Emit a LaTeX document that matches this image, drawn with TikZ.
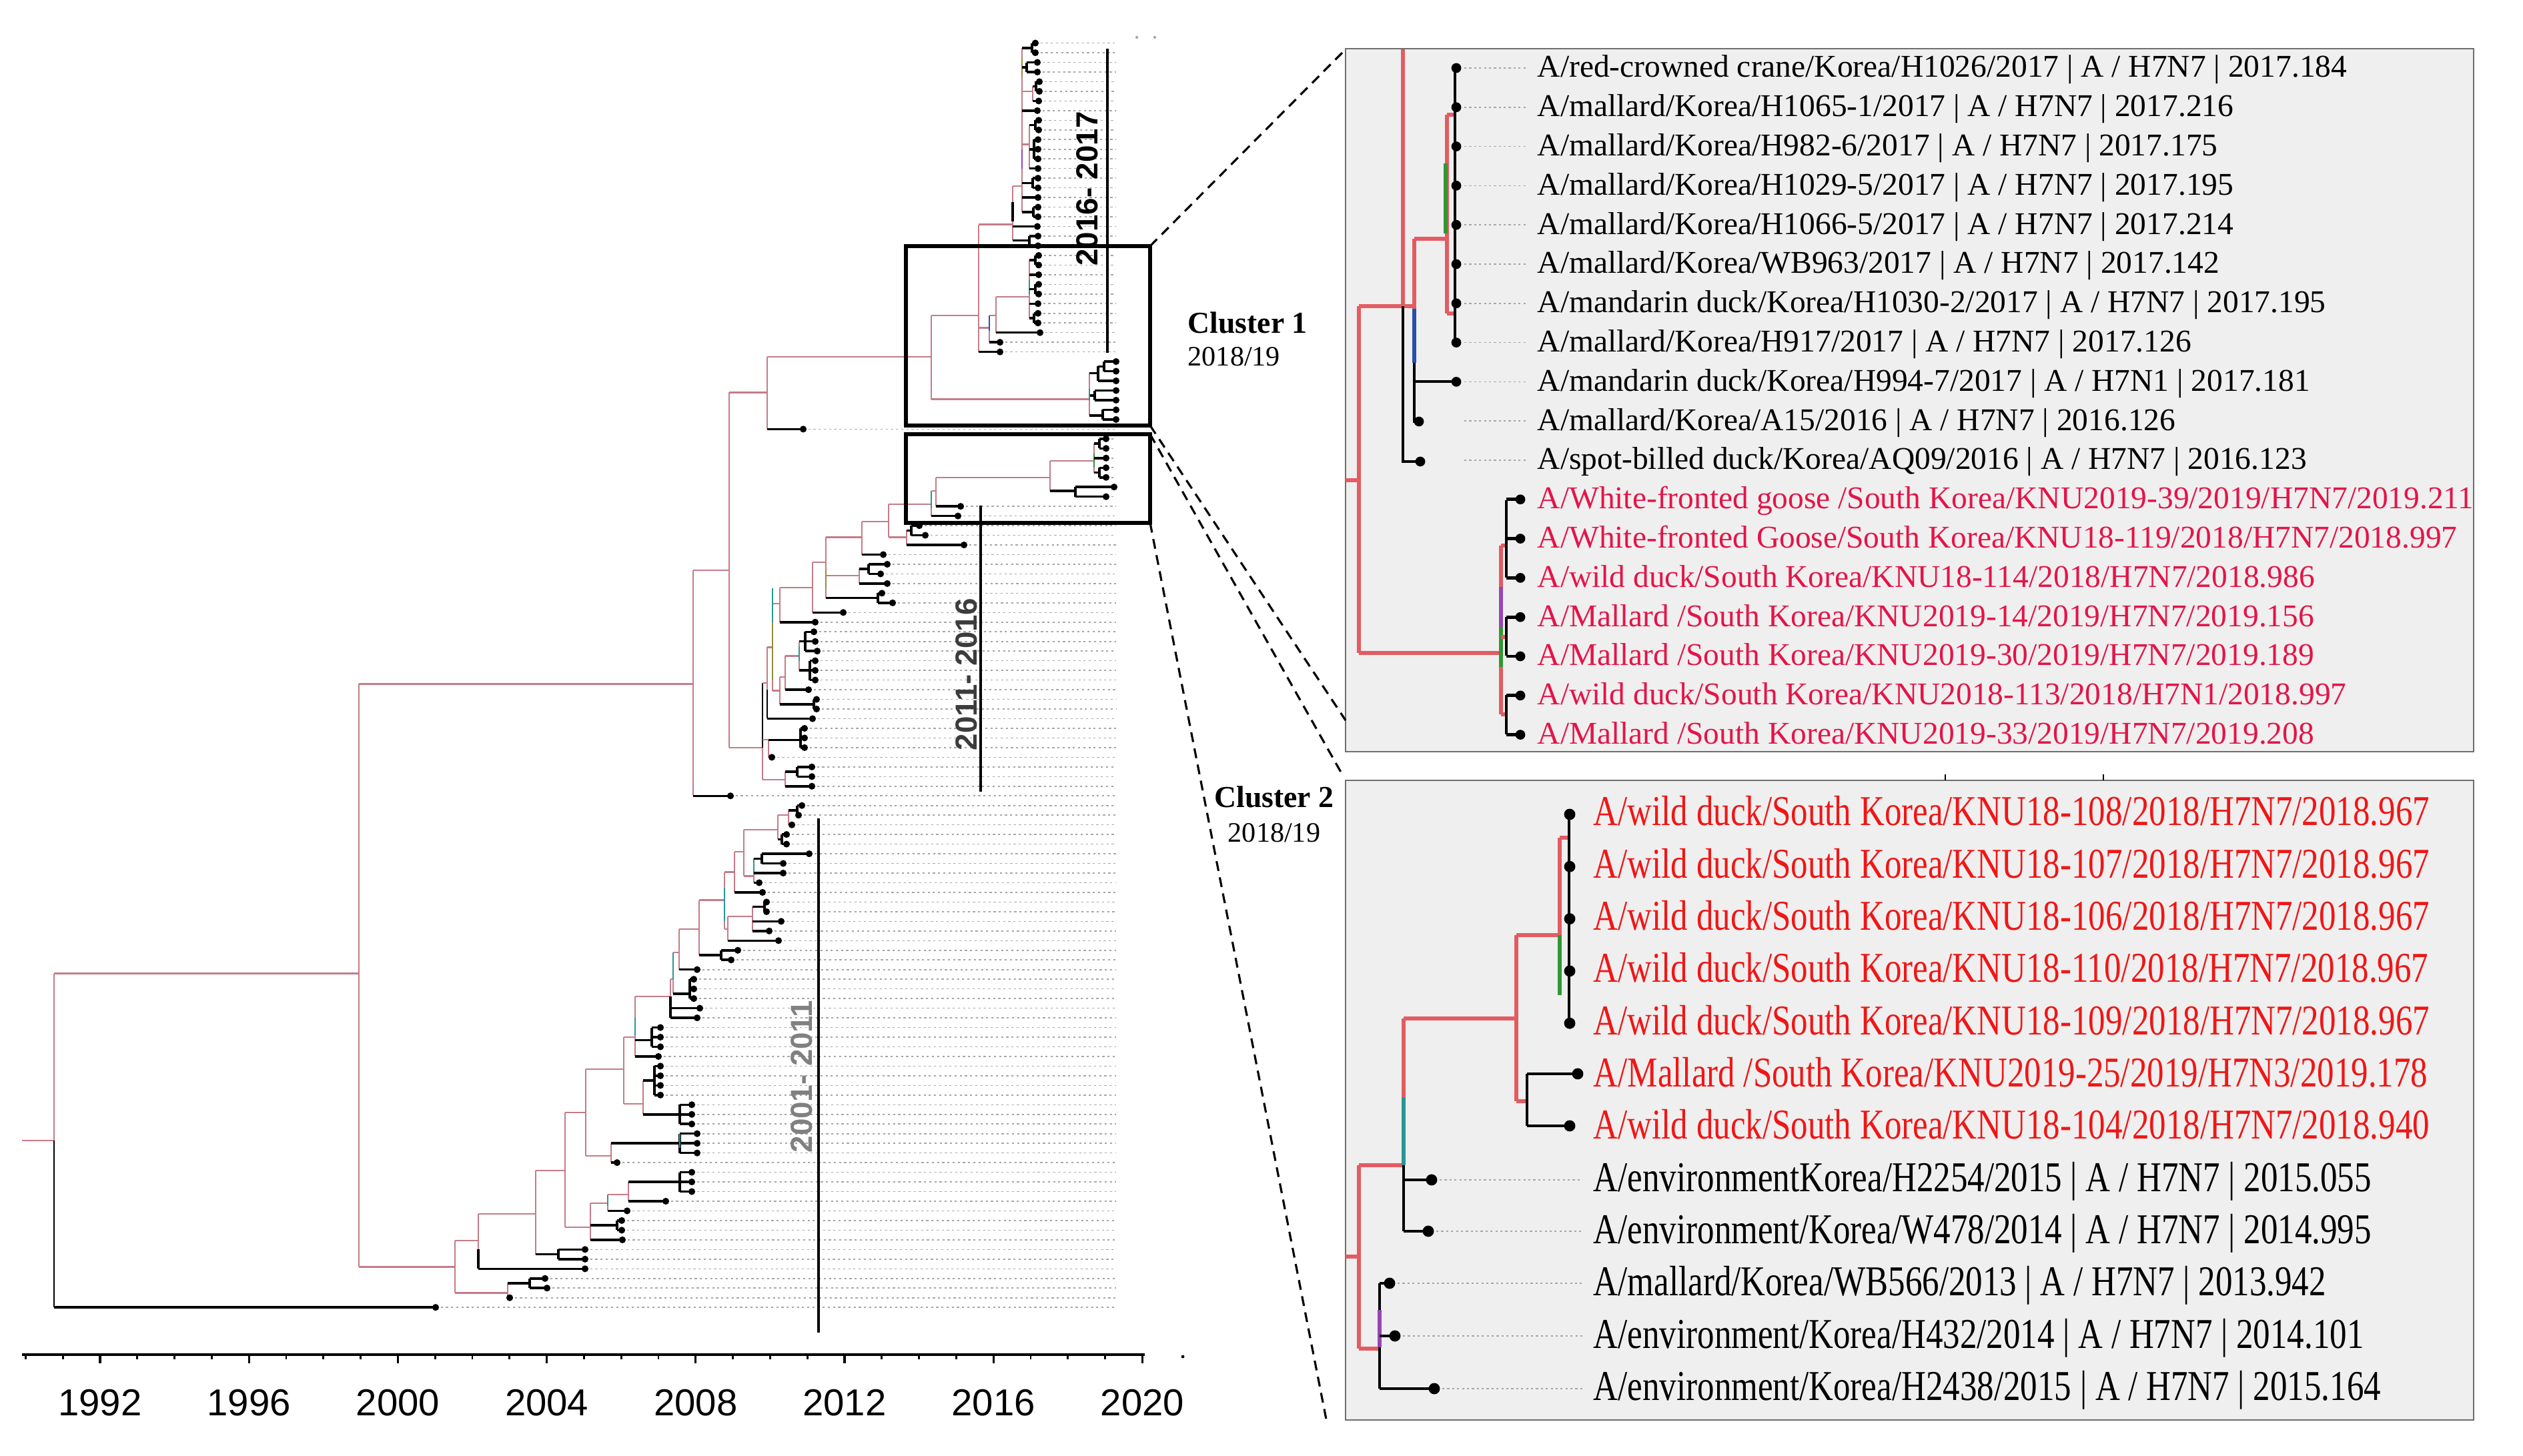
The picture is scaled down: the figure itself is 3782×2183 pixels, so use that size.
\documentclass[tikz,border=0pt]{standalone}
\usepackage{fontspec}
\setmainfont{Liberation Serif}
\newfontfamily\axsans{Liberation Sans}
\definecolor{treepk}{RGB}{196,124,136}
\definecolor{panpk}{RGB}{226,92,98}
\definecolor{redA}{RGB}{228,20,72}
\definecolor{redB}{RGB}{240,22,22}
\definecolor{panbg}{RGB}{239,239,239}
\definecolor{panbd}{RGB}{110,110,110}
\definecolor{dotg}{RGB}{165,165,165}
\definecolor{tealc}{RGB}{40,150,150}
\definecolor{greenc}{RGB}{50,150,50}
\definecolor{purpc}{RGB}{150,70,180}
\definecolor{bluec}{RGB}{40,80,170}
\definecolor{olivec}{RGB}{150,140,60}
\newcommand{\TRY}[1]{64.6+14.47*(#1)}
\newcommand{\tnd}[6][pk]{\draw[#1] (#2,{\TRY{#4}}) -- (#3,{\TRY{#4}}); \draw[#1] (#3,{\TRY{#5}}) -- (#3,{\TRY{#6}});}
\newcommand{\tndk}[5]{\tnd[kb]{#1}{#2}{#3}{#4}{#5}}
\newcommand{\tlf}[3]{\draw[dotl] (#2,{\TRY{#3}}) -- (1673,{\TRY{#3}}); \draw[kb] (#1,{\TRY{#3}}) -- (#2,{\TRY{#3}}); \fill (#2,{\TRY{#3}}) circle[radius=1.45pt];}
\newcommand{\tlfs}[4]{\foreach \q in {#3,...,#4}{\tlf{#1}{#2}{\q}}}
\newcommand{\tcol}[4]{\draw[draw=#1,line width=0.7pt] (#2,{\TRY{#3}}) -- (#2,{\TRY{#4}});}
\newcommand{\ptA}[3][black]{\node[txA,text=#1] (pa#2) at (2304,{102+58.8*#2+14}) {#3};}
\newcommand{\ptB}[3][black]{\node[txB,text=#1] (pb#2) at (2388,{1221+78.3*#2+17}) {\scalebox{1}[1.25]{#3}};}
\tikzset{
  pk/.style={draw=treepk, line width=0.65pt},
  kb/.style={draw=black, line width=1pt},
  dotl/.style={draw=dotg, line width=0.45pt, dash pattern=on 0.9pt off 1.3pt},
  ppk/.style={draw=panpk, line width=1.7pt},
  pkb/.style={draw=black, line width=1.4pt},
  pdot/.style={draw=dotg, line width=0.5pt, dash pattern=on 0.9pt off 1.2pt},
  txA/.style={anchor=base west, inner sep=0pt, font=\fontsize{13.5}{16}\selectfont},
  txB/.style={anchor=base west, inner sep=0pt, font=\fontsize{14.5}{17}\selectfont},
  axlab/.style={anchor=base, inner sep=0pt, font=\axsans\fontsize{16}{19}\selectfont},
  cladelab/.style={rotate=90, inner sep=0pt, font=\axsans\bfseries\fontsize{13}{15}\selectfont},
  cbar/.style={draw=black, line width=0.9pt},
  zoomd/.style={draw=black, line width=0.9pt, dash pattern=on 4.2pt off 2.8pt},
  clbox/.style={draw=black, line width=1.5pt},
  panel/.style={fill=panbg, draw=panbd, line width=0.7pt}
}
\begin{document}
\begin{tikzpicture}[x=0.01cm,y=-0.01cm]
\fill[white] (0,0) rectangle (3782,2183);
\useasboundingbox (0,0) rectangle (3782,2183);

% ================= left tree =================
\draw[pk] (33,{\TRY{113.7}}) -- (81,{\TRY{113.7}});
\draw[pk] (81,{\TRY{96.4}}) -- (81,{\TRY{113.7}});
\draw[draw=black,line width=0.7pt] (81,{\TRY{113.7}}) -- (81,{\TRY{131}});
\tlf{81}{653}{131}
\tnd{81}{538}{96.4}{66.4}{126.8}
% upper
\tnd{538}{1039}{66.4}{54.6}{78}
\tlf{1039}{1095}{78}
\tnd{1039}{1093}{54.6}{36.2}{73}
\tnd{1093}{1150}{36.2}{32.5}{40}
\tlf{1150}{1204}{40}
\tnd{1150}{1396}{32.5}{28.2}{36.9}
\tnd{1396}{1633}{36.9}{34.2}{38.6}
\tndk{1633}{1646}{34.2}{33.5}{35}
\tndk{1646}{1655}{33.5}{33}{34}
\tlfs{1655}{1673}{33}{34}
\tlf{1646}{1673}{35}
\tndk{1633}{1641}{36.5}{36}{37}
\tlfs{1641}{1673}{36}{37}
\tndk{1633}{1653}{38.6}{38}{39}
\tlfs{1653}{1673}{38}{39}
\tcol{tealc}{1633}{35.8}{37}
\tnd{1396}{1467}{28.2}{18.8}{32}
\tlf{1467}{1499}{32}
\tnd{1467}{1483}{29.5}{28.2}{31}
\tcol{bluec}{1483}{28.2}{29.8}
\tlf{1483}{1499}{31}
\tnd{1483}{1493}{28.2}{26.3}{30}
\tlf{1493}{1559}{30}
\tnd{1493}{1543}{26.3}{22.5}{28.5}
\tcol{tealc}{1543}{24.5}{26}
\tndk{1543}{1552}{22.5}{22}{23} \tlfs{1552}{1557}{22}{23}
\tlf{1543}{1557}{24}
\tndk{1543}{1552}{25.5}{25}{26} \tlfs{1552}{1557}{25}{26}
\tlf{1543}{1556}{27}
\tndk{1543}{1550}{28.5}{28}{29} \tlfs{1550}{1556}{28}{29}
\tnd{1467}{1518}{18.8}{14.8}{20.45}
\draw[draw=black,line width=1pt] (1518,{\TRY{16.5}}) -- (1518,{\TRY{18.5}});
\tlf{1518}{1555}{19}
\tndk{1518}{1543}{20.45}{20}{21} \tlfs{1543}{1556}{20}{21}
\tnd{1518}{1532}{14.8}{0.5}{17.5}
\tcol{olivec}{1532}{1.5}{3.5}
\tcol{purpc}{1532}{11}{13}
\tndk{1532}{1547}{0.5}{0}{1} \tlfs{1547}{1552}{0}{1}
\tndk{1532}{1539}{2.5}{2}{3} \tlfs{1539}{1555}{2}{3}
\tnd{1532}{1548}{5}{4.5}{6} \tndk{1548}{1553}{4.5}{4}{5} \tlfs{1553}{1558}{4}{5} \tlf{1548}{1557}{6}
\tlf{1532}{1555}{7}
\tnd{1532}{1543}{10.5}{8.5}{13} \tndk{1543}{1552}{8.5}{8}{9} \tlfs{1552}{1557}{8}{9}
\tndk{1543}{1550}{11}{10}{12} \tlfs{1550}{1556}{10}{12} \tlf{1543}{1556}{13}
\tndk{1532}{1548}{14.5}{14}{15} \tlfs{1548}{1556}{14}{15}
\tlf{1532}{1556}{16}
\tndk{1532}{1549}{17.5}{17}{18} \tlfs{1549}{1556}{17}{18}
% 2011-2016 clade
\tnd{1093}{1143}{73}{66.3}{76.3}
\draw[draw=black,line width=0.8pt] (1143,{\TRY{66.3}}) -- (1143,{\TRY{73}});
\tnd{1143}{1177}{76.3}{75.5}{77}
\tndk{1177}{1195}{75.5}{75}{76} \tlfs{1195}{1217}{75}{76}
\tlf{1177}{1217}{77}
\tnd{1143}{1152}{72.2}{72.2}{74}
\tndk{1152}{1200}{72.2}{71}{73} \tlfs{1200}{1206}{71}{73}
\tlf{1152}{1157}{74}
\tnd{1143}{1150}{66.3}{62.6}{70}
\draw[draw=black,line width=0.8pt] (1150,{\TRY{67}}) -- (1150,{\TRY{70}});
\tlf{1150}{1218}{70}
\tnd{1150}{1158}{62.6}{58.1}{67.1}
\tcol{olivec}{1158}{60}{66}
\tnd{1158}{1169}{67.1}{65.7}{68.5}
\tndk{1169}{1220}{68.5}{68}{69} \tlfs{1220}{1224}{68}{69}
\tnd{1169}{1177}{65.7}{63.5}{67}
\tlf{1177}{1212}{67}
\tnd{1177}{1198}{63.5}{62}{65}
\tcol{tealc}{1198}{62.5}{64}
\tndk{1198}{1207}{62}{61}{63} \tlf{1207}{1220}{61} \tlf{1207}{1222}{62} \tlf{1207}{1225}{63}
\tndk{1198}{1214}{65}{64}{66} \tlfs{1214}{1222}{64}{66}
\tnd{1158}{1169}{58.1}{56.4}{60}
\tcol{tealc}{1158}{56.5}{60}
\tlf{1169}{1222}{60}
\tnd{1169}{1218}{56.4}{53.8}{59}
\tlf{1218}{1264}{59}
\tnd{1218}{1238}{53.8}{51.2}{57.5}
\tcol{olivec}{1238}{54.5}{56.5}
\tnd{1238}{1288}{55.2}{54.5}{56}
\tndk{1288}{1302}{54.5}{54}{55} \tlf{1302}{1330}{54} \tlf{1302}{1320}{55}
\tlf{1288}{1330}{56}
\tndk{1238}{1316}{57.5}{57}{58} \tlf{1316}{1322}{57} \tlf{1316}{1338}{58}
\tnd{1238}{1292}{51.2}{49.6}{53}
\tlf{1292}{1324}{53}
\tnd{1292}{1332}{49.6}{47.8}{51.2}
\tnd{1332}{1359}{51.2}{50.5}{52}
\tlf{1359}{1445}{52}
\tndk{1359}{1366}{50.5}{50}{51} \tlf{1366}{1378}{50} \tlf{1366}{1387}{51}
\tnd{1332}{1396}{47.8}{46.4}{49}
\tcol{tealc}{1396}{46.4}{48.2}
\tlf{1396}{1436}{49}
\tnd{1396}{1403}{46.4}{45}{48}
\tlf{1403}{1440}{48}
\tnd{1403}{1574}{45}{43.3}{46.4}
\tnd{1574}{1640}{43.3}{41.5}{44.5}
\tcol{greenc}{1640}{42.5}{44}
\tndk{1640}{1648}{41.5}{41}{42} \tlfs{1648}{1658}{41}{42}
\tlf{1640}{1658}{43}
\tndk{1640}{1648}{44.5}{44}{45} \tlfs{1648}{1658}{44}{45}
\tndk{1574}{1612}{46.4}{46}{47} \tlf{1612}{1670}{46} \tlf{1612}{1658}{47}
% lower: 2001-2011 clade
\tnd{538}{682}{126.8}{124.1}{129.5}
\tnd{682}{761}{129.5}{128.5}{130}
\tndk{761}{794}{128.5}{128}{129} \tlf{794}{817}{128} \tlf{794}{820}{129}
\tlf{761}{764}{130}
\tnd{682}{717}{124.1}{121.3}{127}
\draw[draw=black,line width=1pt] (717,{\TRY{125}}) -- (717,{\TRY{127}});
\tlf{717}{877}{127}
\tnd{717}{803}{121.3}{116.8}{125.5}
\tndk{803}{837}{125.5}{125}{126} \tlfs{837}{877}{125}{126}
\tnd{803}{847}{116.8}{110.8}{122.7}
\tnd{847}{885}{122.7}{120.2}{124}
\tlf{885}{933}{124}
\tndk{885}{925}{122.5}{122}{123} \tlfs{925}{932}{122}{123}
\tnd{885}{911}{120.2}{119.3}{121}
\tcol{tealc}{911}{119.3}{120.5}
\tlf{911}{940}{121}
\tnd{911}{942}{119.3}{118}{120}
\tlf{942}{998}{120}
\tndk{942}{1019}{118}{117}{119} \tlfs{1019}{1037}{117}{119}
\tnd{847}{878}{110.8}{106.3}{115.3}
\tnd{878}{916}{115.3}{114}{116}
\tndk{916}{1019}{114}{113}{115} \tlfs{1019}{1045}{113}{115}
\tcol{tealc}{1019}{113}{114.5}
\tlf{916}{925}{116}
\tnd{878}{935}{106.3}{103}{109.9}
\tnd{935}{964}{109.9}{107.5}{111}
\tndk{964}{981}{107.5}{106}{109} \tlfs{981}{990}{106}{109}
\tndk{964}{1019}{111}{110}{112} \tlfs{1019}{1037}{110}{112}
\tnd{935}{952}{103}{98.8}{105}
\tcol{tealc}{952}{101}{102.8}
\tlf{952}{987}{105}
\tndk{952}{977}{103.3}{102}{104} \tlfs{977}{990}{102}{104}
\tnd{952}{1005}{98.8}{97}{101}
\draw[draw=black,line width=0.9pt] (1005,{\TRY{98.8}}) -- (1005,{\TRY{101}});
\tlf{1005}{1049}{100} \tlf{1005}{1045}{101}
\tnd{1005}{1009}{97}{94.2}{98.5}
\tcol{tealc}{1009}{94.2}{97}
\tndk{1009}{1034}{98.5}{97}{99} \tlfs{1034}{1040}{97}{99}
\tnd{1009}{1018}{94.2}{91.8}{96}
\tlf{1018}{1045}{96}
\tnd{1018}{1048}{91.8}{88.8}{94.5}
\tndk{1048}{1081}{94.5}{94}{95} \tlf{1081}{1106}{94} \tlf{1081}{1096}{95}
\tnd{1048}{1086}{88.8}{85.9}{91.8}
\tcol{tealc}{1086}{87.5}{91}
\tnd{1086}{1091}{91.8}{90.5}{93}
\tlf{1091}{1167}{93}
\tnd{1091}{1128}{90.5}{89.5}{92}
\tndk{1128}{1146}{89.5}{89}{90} \tlfs{1146}{1149}{89}{90}
\tlf{1128}{1171}{91} \tlf{1128}{1153}{92}
\tnd{1086}{1101}{85.9}{83.8}{88}
\tlf{1101}{1143}{88}
\tnd{1101}{1115}{83.8}{81.5}{86.3}
\tnd{1115}{1130}{86.3}{84.5}{87}
\tcol{tealc}{1130}{84.5}{86}
\tndk{1130}{1142}{84.5}{84}{85} \tlf{1142}{1213}{84} \tlf{1142}{1174}{85}
\tlf{1130}{1174}{86} \tlf{1130}{1138}{87}
\tnd{1115}{1166}{81.5}{80}{82.5}
\tndk{1166}{1172}{82.5}{82}{83} \tlfs{1172}{1179}{82}{83}
\tnd{1166}{1182}{80}{79.5}{81}
\tndk{1182}{1195}{79.5}{79}{80} \tlf{1195}{1202}{79} \tlf{1195}{1197}{80}
\tlf{1182}{1187}{81}

% clade bars and labels
\draw[cbar] (1660,73) -- (1660,529);
\node[cladelab] (lab1617) at (1630,283) {2016- 2017};
\draw[cbar] (1470,758) -- (1470,1187);
\node[cladelab,text={rgb,255:red,60;green,60;blue,60}] (lab1116) at (1449,1011) {2011- 2016};
\draw[cbar] (1227,1227) -- (1227,1998);
\node[cladelab,text={rgb,255:red,128;green,128;blue,128}] (lab0111) at (1202,1614) {2001- 2011};

% small marks
\fill[dotg] (1704,56) circle[radius=0.6pt];
\fill[dotg] (1731,56) circle[radius=0.6pt];
\fill[black] (1773,2034) circle[radius=0.7pt];

% axis
\draw[draw=black,line width=1.3pt] (33,2031) -- (1716,2031);
\foreach \yr in {1990,...,2020}{\draw[line width=0.8pt] ({150+55.8*(\yr-1992)},2031) -- ++(0,7);}
\foreach \yr in {1992,1996,...,2020}{
  \draw[line width=0.9pt] ({150+55.8*(\yr-1992)},2031) -- ++(0,13);
  \node[axlab] (ax\yr) at ({150+55.8*(\yr-1992)},2122) {\yr};
}

% cluster boxes on tree
\draw[clbox] (1358,369) rectangle (1724,638);
\draw[clbox] (1358,651) rectangle (1724,784);
\coordinate (c1a) at (1724,369);
\coordinate (c1b) at (1724,638);
\coordinate (c2a) at (1724,651);
\coordinate (c2b) at (1724,784);

% cluster labels
\node[anchor=base west, inner sep=0pt, font=\bfseries\fontsize{13}{15}\selectfont] (cl1) at (1780,500) {Cluster 1};
\node[anchor=base west, inner sep=0pt, font=\fontsize{12}{14}\selectfont] (cl1y) at (1780,549) {2018/19};
\node[anchor=base, inner sep=0pt, font=\bfseries\fontsize{13}{15}\selectfont] (cl2) at (1910,1210) {Cluster 2};
\node[anchor=base, inner sep=0pt, font=\fontsize{12}{14}\selectfont] (cl2y) at (1910,1262) {2018/19};

% panels
\draw[panel] (2017,73) rectangle (3708,1127);
\draw[panel] (2017,1170) rectangle (3708,2129);
\draw[line width=0.5pt] (2916,1161) -- (2916,1170);
\draw[line width=0.5pt] (3153,1161) -- (3153,1170);
\coordinate (p1a) at (2016,75);
\coordinate (p1b) at (2017,1080);
\coordinate (p2a) at (2013,1163);
\coordinate (p2b) at (1988,2128);
\draw[zoomd] (c1a) -- (p1a);
\draw[zoomd] (c1b) -- (p1b);
\draw[zoomd] (c2a) -- (p2a);
\draw[zoomd] (c2b) -- (p2b);

% ---------- panel 1 tree ----------
\foreach \k in {0,...,10}{\draw[pdot] (2195,{102+58.8*\k}) -- (2288,{102+58.8*\k});}
\draw[ppk] (2017,720) -- (2037,720);
\draw[ppk] (2037,459) -- (2037,979);
\draw[ppk] (2037,459) -- (2120,459);
\draw[ppk] (2103,74) -- (2103,459);
\draw[pkb] (2103,459) -- (2103,692) -- (2129,692);
\draw[ppk] (2120,358) -- (2120,463);
\draw[draw=bluec,line width=1.7pt] (2120,463) -- (2120,544);
\draw[pkb] (2120,544) -- (2120,632) -- (2127,632);
\draw[pkb] (2120,572) -- (2183,572);
\draw[ppk] (2120,358) -- (2169,358);
\draw[ppk] (2169,172) -- (2169,470);
\draw[draw=greenc,line width=1.5pt] (2167,245) -- (2167,350);
\draw[ppk] (2169,172) -- (2181,172);
\draw[ppk] (2169,470) -- (2181,470);
\draw[pkb] (2181,102) -- (2181,515);
\foreach \k in {0,...,8}{\fill (2183,{102+58.8*\k}) circle[radius=2.1pt];}
\fill (2127,632) circle[radius=2.1pt];
\fill (2129,692) circle[radius=2.1pt];
\draw[ppk] (2037,979) -- (2250,979);
\draw[ppk] (2250,818) -- (2250,1071);
\draw[draw=purpc,line width=1.5pt] (2250,880) -- (2250,940);
\draw[draw=greenc,line width=1.5pt] (2250,940) -- (2250,1000);
\draw[ppk] (2250,818) -- (2258,818);
\draw[pkb] (2258,750) -- (2258,866);
\draw[ppk] (2250,955) -- (2258,955);
\draw[pkb] (2258,925) -- (2258,983);
\draw[ppk] (2250,1071) -- (2258,1071);
\draw[pkb] (2258,1042) -- (2258,1101);
\foreach \k in {11,...,17}{\draw[pkb] (2258,{102+58.8*\k}) -- (2279,{102+58.8*\k}); \fill (2279,{102+58.8*\k}) circle[radius=2.1pt];}

\ptA{0}{A/red-crowned crane/Korea/H1026/2017 | A / H7N7 | 2017.184}
\ptA{1}{A/mallard/Korea/H1065-1/2017 | A / H7N7 | 2017.216}
\ptA{2}{A/mallard/Korea/H982-6/2017 | A / H7N7 | 2017.175}
\ptA{3}{A/mallard/Korea/H1029-5/2017 | A / H7N7 | 2017.195}
\ptA{4}{A/mallard/Korea/H1066-5/2017 | A / H7N7 | 2017.214}
\ptA{5}{A/mallard/Korea/WB963/2017 | A / H7N7 | 2017.142}
\ptA{6}{A/mandarin duck/Korea/H1030-2/2017 | A / H7N7 | 2017.195}
\ptA{7}{A/mallard/Korea/H917/2017 | A / H7N7 | 2017.126}
\ptA{8}{A/mandarin duck/Korea/H994-7/2017 | A / H7N1 | 2017.181}
\ptA{9}{A/mallard/Korea/A15/2016 | A / H7N7 | 2016.126}
\ptA{10}{A/spot-billed duck/Korea/AQ09/2016 | A / H7N7 | 2016.123}
\ptA[redA]{11}{A/White-fronted goose /South Korea/KNU2019-39/2019/H7N7/2019.211}
\ptA[redA]{12}{A/White-fronted Goose/South Korea/KNU18-119/2018/H7N7/2018.997}
\ptA[redA]{13}{A/wild duck/South Korea/KNU18-114/2018/H7N7/2018.986}
\ptA[redA]{14}{A/Mallard /South Korea/KNU2019-14/2019/H7N7/2019.156}
\ptA[redA]{15}{A/Mallard /South Korea/KNU2019-30/2019/H7N7/2019.189}
\ptA[redA]{16}{A/wild duck/South Korea/KNU2018-113/2018/H7N1/2018.997}
\ptA[redA]{17}{A/Mallard /South Korea/KNU2019-33/2019/H7N7/2019.208}

% ---------- panel 2 tree ----------
\draw[pdot] (2158,1769) -- (2372,1769);
\draw[pdot] (2153,1846) -- (2372,1846);
\draw[pdot] (2095,1924) -- (2372,1924);
\draw[pdot] (2103,2003) -- (2372,2003);
\draw[pdot] (2162,2082) -- (2372,2082);
\draw[ppk] (2017,1884) -- (2037,1884);
\draw[ppk] (2037,1747) -- (2037,2022);
\draw[ppk] (2037,1747) -- (2104,1747);
\draw[ppk] (2104,1527) -- (2104,1645);
\draw[draw=tealc,line width=1.7pt] (2104,1645) -- (2104,1747);
\draw[pkb] (2104,1747) -- (2104,1846);
\draw[pkb] (2104,1769) -- (2146,1769);
\draw[pkb] (2104,1846) -- (2141,1846);
\draw[ppk] (2104,1527) -- (2273,1527);
\draw[ppk] (2273,1402) -- (2273,1651);
\draw[ppk] (2273,1402) -- (2338,1402);
\draw[ppk] (2338,1256) -- (2338,1402);
\draw[draw=greenc,line width=1.5pt] (2338,1402) -- (2338,1492);
\draw[ppk] (2338,1256) -- (2352,1256);
\draw[pkb] (2352,1221) -- (2352,1530);
\draw[ppk] (2273,1651) -- (2289,1651);
\draw[pkb] (2289,1610) -- (2289,1688);
\draw[pkb] (2289,1610) -- (2365,1610);
\draw[pkb] (2289,1688) -- (2353,1688);
\draw[ppk] (2037,2022) -- (2068,2022);
\draw[pkb] (2068,1924) -- (2068,2082);
\draw[draw=purpc,line width=1.5pt] (2068,1964) -- (2068,2020);
\draw[pkb] (2068,1924) -- (2083,1924);
\draw[pkb] (2068,2003) -- (2091,2003);
\draw[pkb] (2068,2082) -- (2150,2082);
\foreach \k in {0,...,4}{\fill (2353,{1221+78.3*\k}) circle[radius=2.4pt];}
\fill (2365,1610) circle[radius=2.4pt];
\fill (2353,1688) circle[radius=2.4pt];
\fill (2146,1769) circle[radius=2.4pt];
\fill (2141,1846) circle[radius=2.4pt];
\fill (2083,1924) circle[radius=2.4pt];
\fill (2091,2003) circle[radius=2.4pt];
\fill (2150,2082) circle[radius=2.4pt];

\ptB[redB]{0}{A/wild duck/South Korea/KNU18-108/2018/H7N7/2018.967}
\ptB[redB]{1}{A/wild duck/South Korea/KNU18-107/2018/H7N7/2018.967}
\ptB[redB]{2}{A/wild duck/South Korea/KNU18-106/2018/H7N7/2018.967}
\ptB[redB]{3}{A/wild duck/South Korea/KNU18-110/2018/H7N7/2018.967}
\ptB[redB]{4}{A/wild duck/South Korea/KNU18-109/2018/H7N7/2018.967}
\ptB[redB]{5}{A/Mallard /South Korea/KNU2019-25/2019/H7N3/2019.178}
\ptB[redB]{6}{A/wild duck/South Korea/KNU18-104/2018/H7N7/2018.940}
\ptB{7}{A/environmentKorea/H2254/2015 | A / H7N7 | 2015.055}
\ptB{8}{A/environment/Korea/W478/2014 | A / H7N7 | 2014.995}
\ptB{9}{A/mallard/Korea/WB566/2013 | A / H7N7 | 2013.942}
\ptB{10}{A/environment/Korea/H432/2014 | A / H7N7 | 2014.101}
\ptB{11}{A/environment/Korea/H2438/2015 | A / H7N7 | 2015.164}
\end{tikzpicture}
\end{document}
